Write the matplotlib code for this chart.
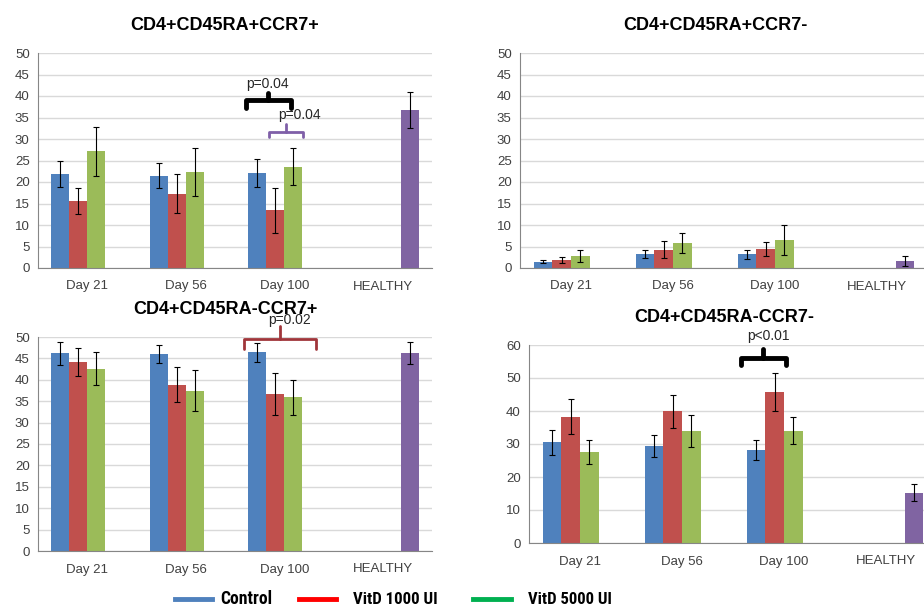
import numpy as np
import matplotlib
matplotlib.use("Agg")
import matplotlib.pyplot as plt
from matplotlib.lines import Line2D
from matplotlib import font_manager

plt.rcParams["font.family"] = ["Liberation Sans", "DejaVu Sans"]

CATEGORIES = ["Day 21", "Day 56", "Day 100", "HEALTHY"]
SERIES = ["Control", "VitD 1000 UI", "VitD 5000 UI", "Healthy"]
BAR_COLORS = ["#4f81bd", "#c0504d", "#9bbb59", "#8064a2"]
LEGEND_COLORS = ["#4f81bd", "#ff0000", "#00b050"]

# means / errors per panel: rows = Control, VitD 1000, VitD 5000 (Day 21, 56, 100); healthy separate
naive_mean = [[21.8, 21.5, 22.1], [15.6, 17.3, 13.4], [27.1, 22.3, 23.5]]
naive_err = [[3.0, 3.0, 3.3], [3.0, 4.5, 5.3], [5.8, 5.5, 4.3]]
naive_healthy = (36.7, 4.2)

temra_mean = [[1.5, 3.2, 3.2], [1.8, 4.3, 4.4], [2.7, 5.8, 6.5]]
temra_err = [[0.4, 0.9, 1.0], [0.7, 1.9, 1.6], [1.4, 2.3, 3.4]]
temra_healthy = (1.7, 1.2)

cm_mean = [[46.2, 46.0, 46.4], [44.2, 38.9, 36.6], [42.6, 37.4, 35.9]]
cm_err = [[2.7, 2.1, 2.2], [3.3, 4.1, 4.9], [3.9, 4.8, 4.1]]
cm_healthy = (46.2, 2.6)

em_mean = [[30.5, 29.5, 28.3], [38.2, 39.9, 45.8], [27.5, 34.0, 34.0]]
em_err = [[3.8, 3.3, 3.0], [5.3, 4.9, 5.8], [3.7, 4.8, 4.1]]
em_healthy = (15.3, 2.6)

BAR_W = 0.183


def narrow_font():
    # pick a condensed face if one is installed
    for name in ["Liberation Sans Narrow", "DejaVu Sans Condensed", "Roboto Condensed",
                 "Open Sans Condensed"]:
        try:
            font_manager.findfont(font_manager.FontProperties(family=name),
                                  fallback_to_default=False)
            return name
        except ValueError:
            continue
    return None


def draw_panel(ax, title, means, errs, healthy, ymax, ystep, title_xy):
    x = np.arange(len(CATEGORIES))
    for i in range(3):
        pos = x[:3] + (i - 1.5) * BAR_W
        ax.bar(pos, means[i], BAR_W, color=BAR_COLORS[i], zorder=2)
        ax.errorbar(pos, means[i], yerr=errs[i], fmt="none", ecolor="black",
                    elinewidth=0.8, capsize=2.5, capthick=0.8, zorder=3)
    hx = x[3] + 1.5 * BAR_W
    ax.bar([hx], [healthy[0]], BAR_W, color=BAR_COLORS[3], zorder=2)
    ax.errorbar([hx], [healthy[0]], yerr=[healthy[1]], fmt="none", ecolor="black",
                elinewidth=0.8, capsize=2.5, capthick=0.8, zorder=3)

    ax.set_xlim(-0.5, 3.5)
    ax.set_ylim(0, ymax)
    ax.set_yticks(np.arange(0, ymax + 1, ystep))
    ax.set_xticks(x)
    ax.set_xticklabels(CATEGORIES)
    ax.yaxis.grid(True, color="#d9d9d9", linewidth=1, zorder=0)
    ax.set_axisbelow(True)
    for s in ["top", "right"]:
        ax.spines[s].set_visible(False)
    for s in ["left", "bottom"]:
        ax.spines[s].set_color("#868686")
    ax.tick_params(length=0, labelsize=9.5, labelcolor="#404040", pad=6)
    ax.tick_params(axis="x", pad=9)
    ax.figure.text(title_xy[0], title_xy[1], title, ha="center", va="center",
                   fontsize=13, fontweight="bold")


def brace(ax, x0, x1, ybot, yh, ypeak, color, lw, label, tx, ty):
    xc = (x0 + x1) / 2
    ax.plot([x0, x0, x1, x1], [ybot, yh, yh, ybot], color=color, lw=lw,
            solid_joinstyle="round", solid_capstyle="round", clip_on=False, zorder=4)
    ax.plot([xc, xc], [yh, ypeak], color=color, lw=lw, solid_capstyle="round",
            clip_on=False, zorder=4)
    ax.text(tx, ty, label, ha="center", va="center", fontsize=10, color="#262626",
            clip_on=False, zorder=5)


fig = plt.figure(figsize=(9.24, 6.08), dpi=100)

ax1 = fig.add_axes([38 / 924, 1 - 268 / 608, 394 / 924, 215 / 608])
draw_panel(ax1, "CD4+CD45RA+CCR7+", naive_mean, naive_err, naive_healthy, 50, 5,
           (225 / 924, 1 - 25 / 608))
brace(ax1, 1.61, 2.07, 37.2, 39.1, 40.7, "black", 3.5, "p=0.04", 1.83, 42.8)
brace(ax1, 1.845, 2.19, 30.5, 31.6, 33.5, "#7f5fa8", 2, "p=0.04", 2.15, 35.6)

ax2 = fig.add_axes([520 / 924, 1 - 268 / 608, 408 / 924, 215 / 608])
draw_panel(ax2, "CD4+CD45RA+CCR7-", temra_mean, temra_err, temra_healthy, 50, 5,
           (715 / 924, 1 - 25 / 608))

ax3 = fig.add_axes([38 / 924, 1 - 551 / 608, 394 / 924, 214 / 608])
draw_panel(ax3, "CD4+CD45RA-CCR7+", cm_mean, cm_err, cm_healthy, 50, 5,
           (225 / 924, 1 - 310 / 608))
brace(ax3, 1.59, 2.32, 47.2, 49.5, 52.6, "#a0353a", 2, "p=0.02", 2.05, 54.0)

ax4 = fig.add_axes([529 / 924, 1 - 543 / 608, 408 / 924, 198 / 608])
draw_panel(ax4, "CD4+CD45RA-CCR7-", em_mean, em_err, em_healthy, 60, 10,
           (724 / 924, 1 - 317 / 608))
brace(ax4, 1.578, 2.02, 53.9, 56.1, 58.8, "black", 3.5, "p<0.01", 1.85, 62.7)

# legend along the bottom
leg_y = 1 - 599 / 608
line_x = [(175, 212), (299, 336), (473, 511)]
text_x = [220, 353, 528]
target_w = [52, 85, 85]  # label widths in pixels
narrow = narrow_font()
leg_family = [narrow, "Liberation Sans"] if narrow else ["Liberation Sans"]
renderer = fig.canvas.get_renderer()
for (a, b), tx, c, name, w in zip(line_x, text_x, LEGEND_COLORS, SERIES[:3], target_w):
    fig.add_artist(Line2D([a / 924, b / 924], [leg_y, leg_y], color=c, lw=3.5,
                          transform=fig.transFigure))
    t = fig.text(tx / 924, leg_y, name, ha="left", va="center", fontsize=15,
                 fontweight="bold", family=leg_family)
    bw = t.get_window_extent(renderer).width
    if bw > w * 1.05:
        t.set_fontsize(15 * w / bw)

fig.savefig("out.png", dpi=100)
